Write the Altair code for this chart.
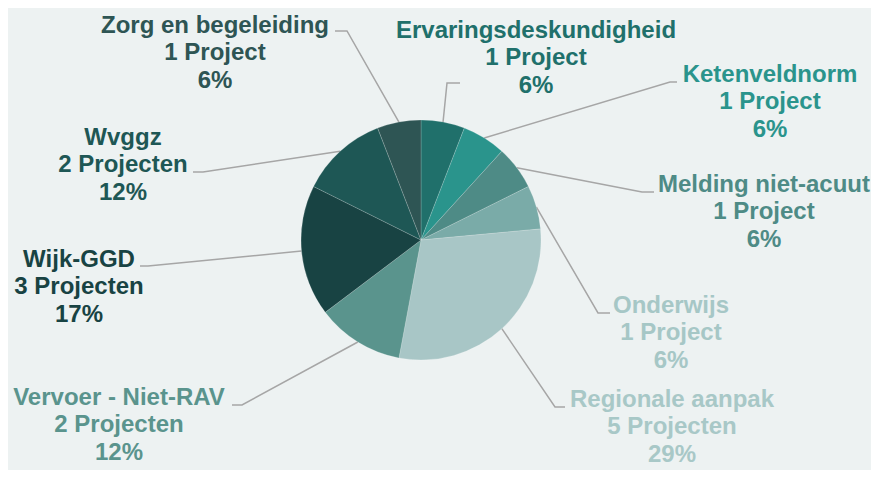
import math
import altair as alt
import pandas as pd

# ---------------- data ----------------
categories = ["Ervaringsdeskundigheid", "Ketenveldnorm", "Melding niet-acuut", "Onderwijs",
              "Regionale aanpak", "Vervoer - Niet-RAV", "Wijk-GGD", "Wvggz", "Zorg en begeleiding"]
projects = [1, 1, 1, 1, 5, 2, 3, 2, 1]
percent_labels = [6, 6, 6, 6, 29, 12, 17, 12, 6]

# ---------------- styles ----------------
slice_colors = ["#20706B", "#2A948C", "#4E8B86", "#7AABA8", "#A8C6C6",
                "#5A948D", "#184343", "#1E5755", "#2E5554"]
text_colors = ["#20706B", "#2A948C", "#4E8B86", "#A6C7C6", "#A8C8C7",
               "#5A948D", "#184343", "#1E5755", "#2E5554"]
BG = "#EDF2F2"
LINE_COLOR = "#A6A6A6"

# ---------------- layout (chart pixel coords) ----------------
W, H = 863, 462
CX, CY, R = 413, 232, 120
LINE_H = 27.3
# label block: centre x, first baseline y
label_xy = [(528, 30), (762, 74), (756, 184), (663, 305), (664, 399),
            (111, 397), (71, 259), (115, 137), (207, 25)]
# leader elbows and ends
leader_mid = [(439, 75), (662, 74), (634, 184), (590, 305), (547, 399),
              (234, 397), (140, 258), (195, 164), (339, 23)]
leader_end = [(452, 75), (669, 74), (646, 184), (602, 305), (557, 399),
              (224, 397), (132, 258), (185, 164), (327, 23)]

total = sum(projects)

pie_df = pd.DataFrame({"category": categories, "projects": projects,
                       "idx": list(range(len(categories)))})

# label text rows
rows = []
for i, (c, p, pc) in enumerate(zip(categories, projects, percent_labels)):
    lines = [c, f"{p} Project" if p == 1 else f"{p} Projecten", f"{pc}%"]
    x0, y0 = label_xy[i]
    for k, t in enumerate(lines):
        rows.append({"category": c, "text": t, "x": x0, "y": y0 + k * LINE_H})
text_df = pd.DataFrame(rows)

# leader lines: start on the pie edge at the slice's mid angle
lrows = []
cum = 0
for i, (c, p) in enumerate(zip(categories, projects)):
    mid = (cum + p / 2) / total * 2 * math.pi
    cum += p
    sx = CX + R * math.sin(mid)
    sy = CY - R * math.cos(mid)
    pts = [(sx, sy), leader_mid[i], leader_end[i]]
    for k, (px, py) in enumerate(pts):
        lrows.append({"category": c, "x": px, "y": py, "o": k})
line_df = pd.DataFrame(lrows)

color_scale = alt.Scale(domain=categories, range=slice_colors)
text_scale = alt.Scale(domain=categories, range=text_colors)

shadow = alt.Chart(pd.DataFrame({"s": [math.pi * (R + 5) ** 2, math.pi * (R + 2) ** 2]})).mark_circle(
    color="#000000", opacity=0.04).encode(
    x=alt.value(CX + 1), y=alt.value(CY + 2),
    size=alt.Size("s:Q", scale=None),
)

pie = alt.Chart(pie_df).mark_arc(outerRadius=R, stroke="#FFFFFF", strokeOpacity=0.25,
                                 strokeWidth=0.7).encode(
    theta=alt.Theta("projects:Q", stack=True),
    order=alt.Order("idx:Q"),
    color=alt.Color("category:N", scale=color_scale, legend=None),
    x=alt.value(CX), y=alt.value(CY),
)

leaders = alt.Chart(line_df).mark_line(color=LINE_COLOR, strokeWidth=1.5).encode(
    x=alt.X("x:Q", scale=None),
    y=alt.Y("y:Q", scale=None),
    detail="category:N",
    order="o:Q",
)

labels = alt.Chart(text_df).mark_text(
    font="Liberation Sans", fontWeight="bold", fontSize=24, align="center",
    baseline="alphabetic").encode(
    x=alt.X("x:Q", scale=None),
    y=alt.Y("y:Q", scale=None),
    text="text:N",
    color=alt.Color("category:N", scale=text_scale, legend=None),
)

chart = alt.layer(shadow, leaders, pie, labels).resolve_scale(color="independent").properties(
    width=W, height=H, background=BG, padding=0,
    autosize=alt.AutoSizeParams(type="none"),
).configure_view(stroke=None)

chart.save("out.html", embed_options={"renderer": "svg", "actions": False})
